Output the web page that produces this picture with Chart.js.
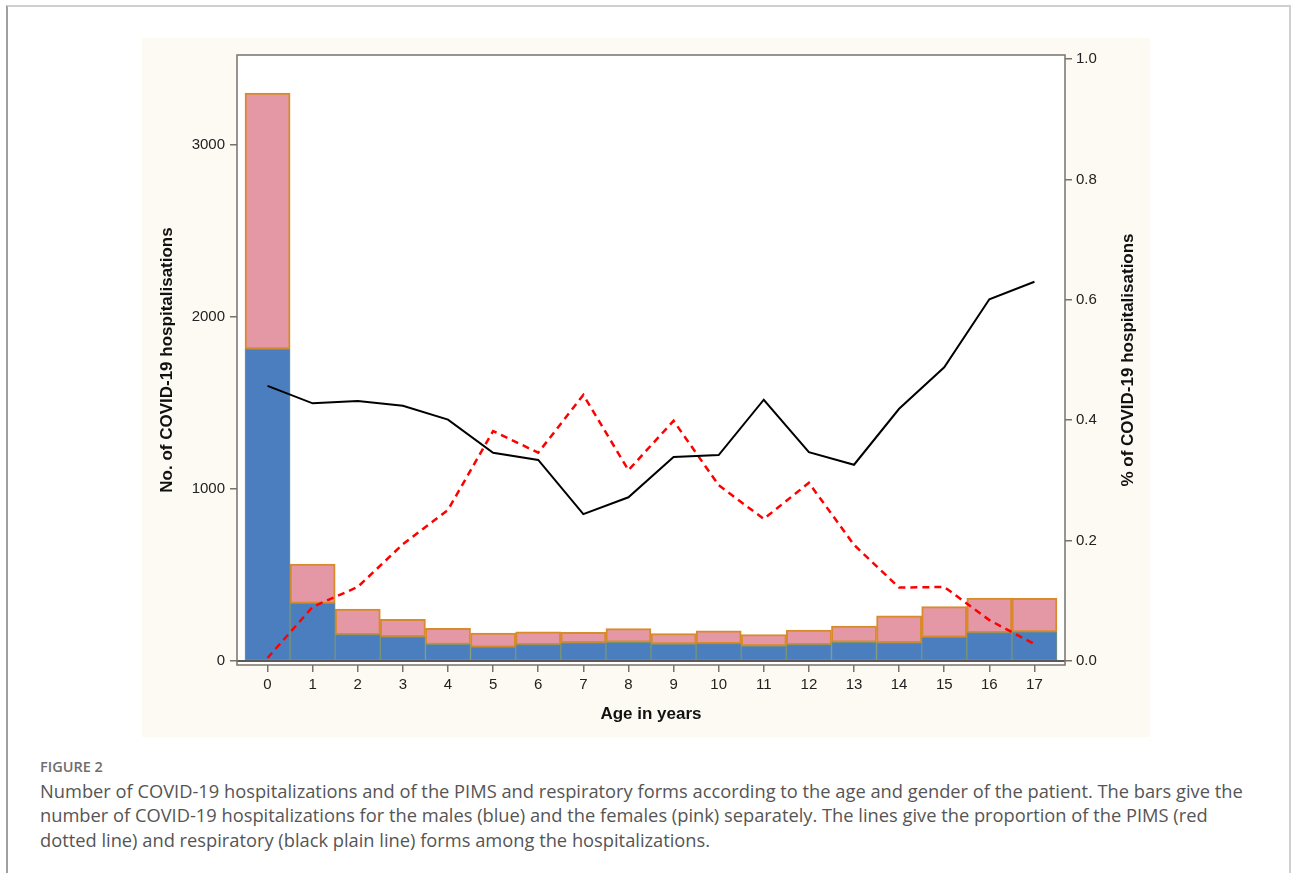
<!DOCTYPE html>
<html><head><meta charset="utf-8">
<script src="https://cdn.jsdelivr.net/npm/chart.js@4.4.0/dist/chart.umd.min.js"></script>
<style>
html,body{margin:0;padding:0;background:#fff;}
body{width:1292px;height:873px;position:relative;overflow:hidden;}
#frame{position:absolute;left:6px;top:5px;width:1281px;height:900px;border-left:2px solid #a0a0a0;border-top:2px solid #d0d0d0;border-right:2px solid #d0d0d0;}
#panel{position:absolute;left:142px;top:38px;width:1008px;height:699px;background:#fdfaf3;}
#fig{position:absolute;left:40px;top:757px;font-family:'Open Sans',sans-serif;font-weight:600;font-size:14.5px;color:#6e6e6e;white-space:nowrap;}
.cap{position:absolute;left:40px;font-family:'Open Sans',sans-serif;font-size:18.3px;color:#555;white-space:nowrap;line-height:24px;}
</style></head>
<body>
<div id="frame"></div>
<div id="panel"><canvas id="c" width="1008" height="699"></canvas></div>
<div id="fig">FIGURE 2</div>
<div class="cap" id="l1" style="top:779px">Number of COVID-19 hospitalizations and of the PIMS and respiratory forms according to the age and gender of the patient. The bars give the</div>
<div class="cap" id="l2" style="top:803px">number of COVID-19 hospitalizations for the males (blue) and the females (pink) separately. The lines give the proportion of the PIMS (red</div>
<div class="cap" id="l3" style="top:828px">dotted line) and respiratory (black plain line) forms among the hospitalizations.</div>
<script>
const ages = [0,1,2,3,4,5,6,7,8,9,10,11,12,13,14,15,16,17];
const males = [1814,335,153,141,97,81,95,106,109,99,101,87,95,109,106,138,165,169];
const females = [1488,229,149,101,93,82,75,61,79,60,75,66,85,94,156,178,201,195];
const pims = [0.005,0.090,0.123,0.194,0.251,0.382,0.346,0.442,0.317,0.399,0.292,0.236,0.296,0.193,0.122,0.123,0.068,0.028];
const resp = [0.457,0.428,0.432,0.424,0.401,0.346,0.334,0.244,0.272,0.339,0.342,0.434,0.347,0.326,0.419,0.488,0.601,0.630];
const leftTicks = [0,1000,2000,3000];
const rightTicks = [0,0.2,0.4,0.6,0.8,1.0];

const xy = arr => arr.map((v,i)=>({x:ages[i], y:v}));
Chart.defaults.font.family = "'Liberation Sans', Arial, sans-serif";
Chart.defaults.color = '#222';
const axisColor = '#77726a';

const deco = {
  id:'deco',
  beforeDraw(chart){
    const {ctx, chartArea:a} = chart;
    ctx.save();
    ctx.fillStyle = '#fdfaf3';
    ctx.fillRect(0,0,chart.width,chart.height);
    ctx.fillStyle = '#ffffff';
    ctx.fillRect(a.left,a.top,a.right-a.left,a.bottom-a.top);
    ctx.restore();
  },
  afterDatasetsDraw(chart){
    const {ctx, chartArea:a, scales} = chart;
    ctx.save();
    const y0 = scales.y.getPixelForValue(0);
    ctx.strokeStyle = '#5a5a5a'; ctx.lineWidth = 2;
    ctx.beginPath(); ctx.moveTo(a.left,y0); ctx.lineTo(a.right,y0); ctx.stroke();
    ctx.strokeStyle = axisColor; ctx.lineWidth = 1.5;
    ctx.strokeRect(a.left,a.top,a.right-a.left,a.bottom-a.top);
    ctx.translate(986,(a.top+a.bottom)/2);
    ctx.rotate(-Math.PI/2);
    ctx.fillStyle = '#111';
    ctx.font = "bold 17px 'Liberation Sans', Arial, sans-serif";
    ctx.textAlign = 'center'; ctx.textBaseline = 'middle';
    ctx.fillText('% of COVID-19 hospitalisations',0,0);
    ctx.restore();
  }
};

new Chart(document.getElementById('c'), {
  type:'bar',
  data:{datasets:[
    {type:'line', label:'Respiratory', data:xy(resp), yAxisID:'y1', borderColor:'#000', borderWidth:2, pointRadius:0, tension:0, order:0},
    {type:'line', label:'PIMS', data:xy(pims), yAxisID:'y1', borderColor:'#ff0000', borderWidth:2.5, borderDash:[7,5], pointRadius:0, tension:0, order:1},
    {label:'Males', data:xy(males), yAxisID:'y', stack:'s', backgroundColor:'#4a7ebf', borderColor:'#7c9472', borderWidth:1, borderSkipped:false, barPercentage:1, categoryPercentage:1, order:2},
    {label:'Females', data:xy(females), yAxisID:'y', stack:'s', backgroundColor:'#e498a6', borderColor:'#d98a2b', borderWidth:2, borderSkipped:false, barPercentage:1, categoryPercentage:1, order:3}
  ]},
  options:{
    responsive:false, animation:false,
    layout:{padding:{left:0,right:0,top:17,bottom:0}},
    plugins:{legend:{display:false}, tooltip:{enabled:false}},
    scales:{
      x:{type:'linear', stacked:true, min:-0.677, max:17.677, offset:false,
        afterBuildTicks:s=>{s.ticks = ages.map(v=>({value:v}));},
        afterFit:s=>{s.height=72;},
        ticks:{font:{size:15}, padding:4, maxRotation:0, autoSkip:false, callback:v=>String(v)},
        grid:{offset:false, drawOnChartArea:false, drawTicks:true, tickLength:7, color:axisColor, lineWidth:1.5},
        border:{display:false},
        title:{display:true, text:'Age in years', font:{size:17, weight:'bold'}, color:'#111', padding:{top:0,bottom:12}}
      },
      y:{type:'linear', position:'left', stacked:true, min:-23.26, max:3523.3,
        afterBuildTicks:s=>{s.ticks = leftTicks.map(v=>({value:v}));},
        afterFit:s=>{s.width=95;},
        ticks:{font:{size:15}, padding:5, callback:v=>String(v)},
        grid:{drawOnChartArea:false, drawTicks:true, tickLength:7, color:axisColor, lineWidth:1.5},
        border:{display:false},
        title:{display:true, text:'No. of COVID-19 hospitalisations', font:{size:17, weight:'bold'}, color:'#111', padding:{top:15,bottom:0}}
      },
      y1:{type:'linear', position:'right', min:-0.00664, max:1.00664,
        afterBuildTicks:s=>{s.ticks = rightTicks.map(v=>({value:v}));},
        afterFit:s=>{s.width=85;},
        ticks:{font:{size:15}, padding:4, callback:v=>Number(v).toFixed(1)},
        grid:{drawOnChartArea:false, drawTicks:true, tickLength:7, color:axisColor, lineWidth:1.5},
        border:{display:false}
      }
    }
  },
  plugins:[deco]
});
</script>
</body></html>
